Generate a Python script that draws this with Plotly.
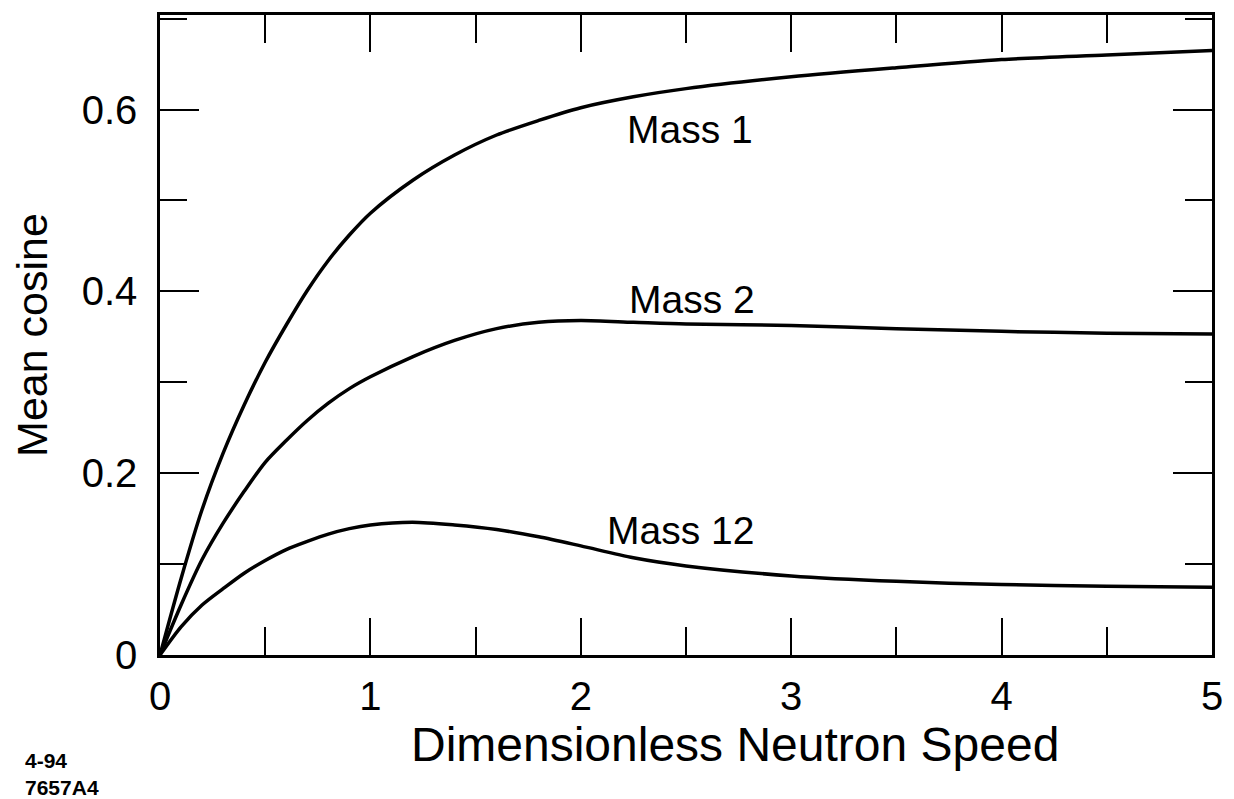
import plotly.graph_objects as go

speed = [0, 0.1, 0.2, 0.3, 0.4, 0.5, 0.6, 0.7, 0.8, 0.9, 1.0, 1.2, 1.4, 1.6, 1.8, 2.0,
         2.25, 2.5, 3.0, 3.5, 4.0, 4.5, 5.0]
mass1 = [0, 0.084, 0.16, 0.222, 0.275, 0.322, 0.363, 0.401, 0.434, 0.462, 0.486, 0.522, 0.55,
         0.572, 0.588, 0.602, 0.614, 0.623, 0.636, 0.646, 0.655, 0.660, 0.665]
mass2 = [0, 0.055, 0.105, 0.145, 0.18, 0.212, 0.236, 0.258, 0.277, 0.293, 0.306, 0.328, 0.346,
         0.359, 0.366, 0.368, 0.366, 0.364, 0.3625, 0.359, 0.356, 0.354, 0.353]
mass12 = [0, 0.031, 0.055, 0.073, 0.09, 0.104, 0.116, 0.125, 0.133, 0.139, 0.143, 0.146, 0.143,
          0.138, 0.13, 0.12, 0.107, 0.098, 0.087, 0.081, 0.0775, 0.0755, 0.0745]

series_names = ["Mass 1", "Mass 2", "Mass 12"]
label_x = [2.52, 2.53, 2.475]
label_y = [0.578, 0.391, 0.137]

x_tickvals = [0, 1, 2, 3, 4, 5]
x_ticktext = ["0", "1", "2", "3", "4", "5"]
y_tickvals = [0, 0.2, 0.4, 0.6]
y_ticktext = ["0", "0.2", "0.4", "0.6"]

FONT = "Liberation Sans, Arial, Helvetica, sans-serif"

fig = go.Figure()
for ys in (mass1, mass2, mass12):
    fig.add_trace(go.Scatter(x=speed, y=ys, mode="lines",
                             line=dict(color="black", width=3.5, shape="spline", smoothing=0.8),
                             showlegend=False, hoverinfo="skip"))

for name, lx, ly in zip(series_names, label_x, label_y):
    fig.add_annotation(x=lx, y=ly, text=name, showarrow=False,
                       font=dict(family=FONT, size=39, color="black"),
                       xanchor="center", yanchor="middle")

# x-axis title (offset to the right of the plot centre, as in the original)
fig.add_annotation(xref="paper", yref="paper", x=0.547, y=-0.14, xanchor="center", yanchor="middle",
                   text="Dimensionless Neutron Speed", showarrow=False,
                   font=dict(family=FONT, size=48, color="black"))

fig.add_annotation(xref="paper", yref="paper", x=-0.130, y=-0.144, xanchor="left", yanchor="top",
                   text="<b>4-94<br>7657A4</b>", showarrow=False, align="left",
                   font=dict(family=FONT, size=21, color="black"))

axis_common = dict(showline=True, linecolor="black", linewidth=2.5, mirror="ticks",
                   ticks="inside", tickcolor="black", tickwidth=2, showgrid=False,
                   zeroline=False, tickfont=dict(family=FONT, size=40, color="black"))

fig.update_xaxes(range=[0, 5], tickvals=x_tickvals, ticktext=x_ticktext, ticklen=37,
                 ticklabelstandoff=4,
                 minor=dict(dtick=0.5, ticklen=28, tickwidth=2, tickcolor="black", ticks="inside"),
                 **axis_common)
fig.update_yaxes(range=[0, 0.704], tickvals=y_tickvals, ticktext=y_ticktext, ticklen=39,
                 ticklabelstandoff=12,
                 minor=dict(dtick=0.1, ticklen=27, tickwidth=2, tickcolor="black", ticks="inside"),
                 title=dict(text="Mean cosine", font=dict(family=FONT, size=43, color="black"),
                            standoff=40),
                 **axis_common)

fig.update_layout(width=1226, height=791, margin=dict(l=151, r=22, t=4, b=144),
                  plot_bgcolor="white", paper_bgcolor="white")

fig.write_html("out.html")
